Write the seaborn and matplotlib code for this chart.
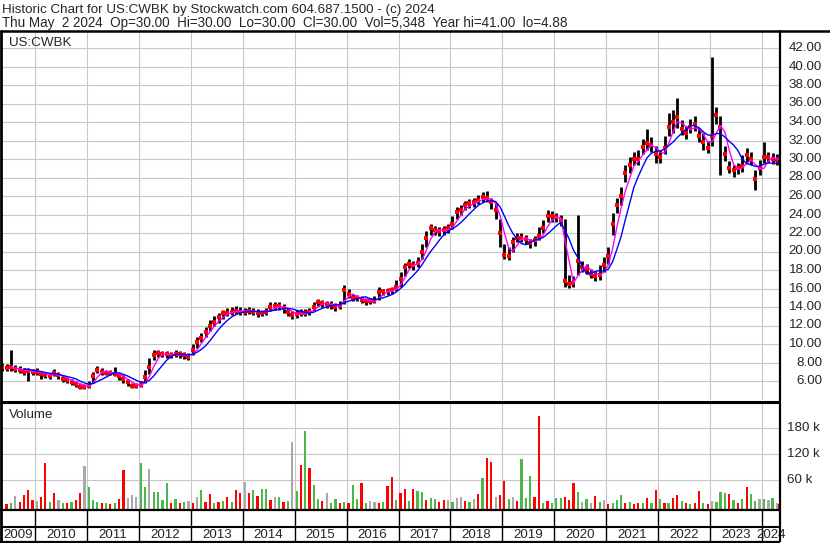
import numpy as np
import pandas as pd
import matplotlib
matplotlib.use("Agg")
import matplotlib.pyplot as plt
import seaborn as sns

# =========================================================
# DADOS (mensais, mai/2009 - mai/2024)
# =========================================================
close = [
    7.5, 7.4, 7.5, 7.3, 7.2, 7.0, 7.1, 7.0,
    7.0, 6.8, 6.6, 6.5, 6.9, 6.6, 6.2, 6.1, 5.9, 5.7, 5.4, 5.4,
    5.5, 6.5, 7.2, 7.0, 6.9, 6.9, 6.8, 6.5, 6.2, 5.9, 5.5, 5.5,
    5.6, 6.4, 7.5, 8.8, 9.0, 8.9, 8.9, 8.8, 8.9, 8.9, 8.8, 8.6,
    9.3, 10.2, 10.6, 11.3, 12.0, 12.4, 12.9, 13.3, 13.4, 13.5, 13.6, 13.5,
    13.5, 13.6, 13.5, 13.4, 13.4, 13.5, 14.0, 14.1, 14.1, 13.9, 13.5, 13.1,
    13.2, 13.4, 13.4, 13.5, 14.0, 14.5, 14.4, 14.3, 14.2, 14.0, 14.1, 15.8,
    15.4, 15.0, 15.0, 14.8, 14.6, 14.6, 14.7, 15.6, 15.7, 15.7, 15.8, 16.2,
    17.0, 18.3, 18.7, 18.5, 18.8, 20.0, 21.5, 22.5, 22.3, 22.2, 22.3, 22.5,
    23.0, 24.3, 24.5, 25.0, 25.2, 25.3, 25.6, 25.9, 25.8, 25.3, 24.5, 22.0,
    19.6, 19.5, 21.0, 21.5, 21.5, 21.3, 20.9, 21.2, 21.7, 22.5, 23.8, 23.8,
    23.7, 23.4, 16.8, 16.5, 16.6, 19.0, 18.3, 18.1, 17.6, 17.3, 17.5, 18.5,
    19.5, 23.0, 25.0, 26.0, 28.5, 29.3, 30.0, 30.0, 31.3, 31.7, 31.5, 30.5,
    30.2, 31.2, 33.5, 34.0, 34.5, 33.2, 32.8, 33.5, 33.8, 32.5, 31.8, 31.2,
    32.5, 34.8, 33.5, 30.5, 29.0, 28.8, 29.0, 29.2, 30.4, 30.0, 27.8, 29.0,
    30.2, 30.2, 30.0, 29.9, 30.0,
]
high = [
    7.9, 7.8, 9.4, 7.7, 7.6, 7.4, 7.4, 7.3,
    7.4, 7.1, 6.9, 6.9, 7.3, 7.0, 6.6, 6.4, 6.2, 6.0, 5.8, 5.7,
    6.0, 7.0, 7.6, 7.4, 7.2, 7.2, 7.5, 6.9, 6.6, 6.2, 5.8, 5.8,
    6.0, 7.2, 8.5, 9.4, 9.4, 9.2, 9.2, 9.1, 9.3, 9.2, 9.1, 9.0,
    10.0, 10.8, 11.2, 11.8, 12.6, 13.0, 13.4, 13.7, 13.9, 14.0, 14.1, 14.0,
    13.9, 14.0, 13.9, 13.8, 13.7, 13.9, 14.5, 14.5, 14.5, 14.3, 13.9, 13.6,
    13.7, 13.8, 13.8, 13.9, 14.5, 14.9, 14.8, 14.7, 14.6, 14.4, 14.6, 16.4,
    15.9, 15.4, 15.3, 15.2, 15.0, 15.0, 15.2, 16.2, 16.0, 16.1, 16.2, 16.9,
    17.8, 18.8, 19.2, 19.0, 19.4, 20.8, 22.2, 23.0, 22.8, 22.7, 22.8, 23.0,
    23.8, 24.8, 25.0, 25.5, 25.7, 25.8, 26.1, 26.4, 26.5, 25.8, 25.2, 23.5,
    20.8, 20.5, 21.6, 22.0, 22.0, 21.8, 21.4, 21.7, 22.6, 23.4, 24.5, 24.4,
    24.2, 23.9, 23.5, 17.5, 17.3, 24.0, 19.0, 18.6, 18.1, 17.9, 18.5, 19.4,
    20.5, 24.2, 25.8, 27.0, 29.3, 30.2, 30.8, 31.0, 32.2, 33.2, 32.4, 31.4,
    31.0, 32.5, 35.0, 35.3, 36.6, 34.2, 33.6, 34.3, 34.6, 33.4, 32.8, 32.0,
    41.0, 35.6, 34.6, 31.4, 29.8, 29.4, 29.6, 30.4, 31.2, 30.8, 28.8, 29.9,
    31.8, 30.8, 30.6, 30.5, 30.0,
]
low = [
    7.1, 7.1, 7.1, 7.0, 6.9, 6.7, 6.0, 6.7,
    6.7, 6.2, 6.3, 6.2, 6.5, 6.2, 5.9, 5.8, 5.6, 5.3, 5.1, 5.1,
    5.2, 5.8, 6.9, 6.7, 6.6, 6.6, 6.5, 6.1, 5.8, 5.5, 5.2, 5.2,
    5.3, 5.8, 6.8, 8.3, 8.6, 8.6, 8.5, 8.5, 8.6, 8.5, 8.4, 8.3,
    8.8, 9.6, 10.2, 10.8, 11.4, 12.0, 12.3, 12.7, 13.0, 13.1, 13.2, 13.1,
    13.1, 13.2, 13.1, 12.9, 13.0, 13.1, 13.6, 13.7, 13.7, 13.4, 13.0, 12.7,
    12.8, 13.0, 13.0, 13.1, 13.6, 14.1, 14.0, 13.9, 13.8, 13.6, 13.8, 14.3,
    15.0, 14.7, 14.6, 14.4, 14.2, 14.3, 14.4, 14.8, 15.3, 15.3, 15.4, 15.7,
    16.2, 17.4, 18.2, 18.0, 18.3, 19.2, 20.5, 21.8, 21.8, 21.7, 21.8, 22.0,
    22.4, 23.5, 24.0, 24.5, 24.7, 24.8, 25.1, 25.4, 25.3, 24.6, 23.5, 20.5,
    19.2, 19.1, 20.0, 21.0, 21.0, 20.8, 20.4, 20.6, 21.2, 22.0, 23.2, 23.2,
    23.2, 22.8, 16.2, 16.1, 16.2, 17.5, 17.8, 17.6, 17.1, 16.8, 16.9, 17.8,
    18.6, 21.8, 24.2, 25.0, 27.5, 28.5, 29.3, 29.4, 30.5, 31.0, 30.8, 29.6,
    29.6, 30.5, 32.5, 32.8, 33.4, 32.6, 32.2, 32.8, 33.0, 31.8, 31.0, 30.6,
    31.4, 33.8, 28.3, 29.8, 28.5, 28.1, 28.4, 28.6, 29.6, 29.4, 26.7, 28.3,
    29.6, 29.6, 29.5, 29.4, 30.0,
]
# volume em milhares
volume = [
    8, 5, 6, 23, 9, 25, 37, 14,
    12, 21, 99, 10, 30, 14, 8, 6, 9, 14, 30, 92,
    44, 14, 9, 6, 7, 5, 8, 16, 83, 18, 25, 21,
    100, 44, 85, 32, 32, 14, 53, 8, 16, 7, 9, 11,
    6, 21, 37, 9, 28, 8, 10, 12, 21, 9, 37, 30,
    56, 30, 37, 22, 39, 39, 15, 21, 20, 10, 12, 147,
    35, 95, 173, 88, 48, 16, 12, 30, 8, 16, 6, 9,
    7, 48, 16, 53, 8, 12, 10, 6, 9, 46, 67, 14,
    30, 39, 12, 40, 35, 32, 14, 18, 16, 9, 14, 14,
    10, 18, 21, 12, 9, 16, 28, 65, 110, 102, 21, 25,
    58, 16, 21, 12, 108, 18, 69, 20, 208, 8, 12, 6,
    18, 18, 21, 14, 53, 32, 10, 16, 8, 23, 9, 14,
    5, 8, 14, 25, 6, 9, 5, 8, 6, 18, 7, 37,
    16, 8, 6, 18, 25, 11, 6, 5, 7, 35, 6, 5,
    12, 9, 32, 30, 28, 14, 8, 16, 44, 28, 12, 16,
    16, 14, 18, 8, 5,
]
# cor de cada barra de volume: r = queda, g = alta, n = sem variacao
vol_dir = list(
    "grgnrrrr"
    "nrrgrngrgrrn"
    "gggrgrgrrnnn"
    "ggnggggrgrgn"
    "rngrrgrgrgrr"
    "nrgrggrngrgn"
    "grgrggrnggrg"
    "rggrgnnrgrrg"
    "rrgrggrggrrn"
    "gnnrgnrgrrnr"
    "rgnrgggrrgrg"
    "ggrrrgngnrgn"
    "rgggrgrrgrgr"
    "grgrrgrgrrgr"
    "ngggrgrgrggn"
    "gngnr"
)

years = list(range(2009, 2025))
price_ticks = list(range(6, 43, 2))
vol_ticks = [60, 120, 180]

header1 = "Historic Chart for US:CWBK by Stockwatch.com 604.687.1500 - (c) 2024"
header2 = ("Thu May  2 2024  Op=30.00  Hi=30.00  Lo=30.00  Cl=30.00  "
           "Vol=5,348  Year hi=41.00  lo=4.88")

# =========================================================
# PREPARO
# =========================================================
datas = pd.date_range("2009-05-01", "2024-05-01", freq="MS") + pd.Timedelta(days=14)
datas = datas[:-1].append(pd.DatetimeIndex(["2024-05-02"]))
t = np.asarray(datas.year + (datas.dayofyear - 1) / 365.25)

df = pd.DataFrame({"t": t, "close": close, "high": high, "low": low,
                   "vol": np.array(volume) * 1000, "dir": vol_dir})
df["ma_curta"] = df["close"].rolling(3).mean()
df["ma_longa"] = df["close"].rolling(6).mean()

cores_vol = {"r": "#ff0000", "g": "#4cb84c", "n": "#a9a9a9"}
GRID = "#c8c8c8"
FONT = 9.6

sns.set_theme(style="white")
plt.rcParams["font.family"] = ["Liberation Sans", "DejaVu Sans"]

W, H = 830, 543
fig = plt.figure(figsize=(W / 100, H / 100), dpi=100)


def px_axes(x0, y0, x1, y1):
    return fig.add_axes([x0 / W, 1 - y1 / H, (x1 - x0) / W, (y1 - y0) / H])


XMIN = 2010 + (2 - 35) / 51.93
XMAX = 2010 + (780 - 35) / 51.93


def estilo(ax):
    ax.set_xlim(XMIN, XMAX)
    ax.set_facecolor("white")
    for s in ax.spines.values():
        s.set_visible(False)
    ax.tick_params(length=0, labelbottom=False, labelleft=False)
    ax.set_xlabel("")
    ax.set_ylabel("")


# =========================================================
# PAINEL DE PRECO
# =========================================================
ax = px_axes(2, 32, 780, 400)
ax.set_xticks(years[1:])
ax.set_yticks(price_ticks)
ax.grid(True, color=GRID, lw=0.8)
ax.vlines(df["t"], df["low"], df["high"], color="black", lw=2.0, zorder=3)
sns.scatterplot(data=df, x="t", y="close", marker="s", s=10, color="red",
                linewidth=0, ax=ax, zorder=4)
sns.lineplot(data=df, x="t", y="ma_curta", color="#ff00ff", lw=1.0, ax=ax, zorder=5)
sns.lineplot(data=df, x="t", y="ma_longa", color="#0000ff", lw=1.0, ax=ax, zorder=5)
estilo(ax)
ax.set_ylim(42 - (400 - 48) / 9.25, 42 - (32 - 48) / 9.25)

# =========================================================
# PAINEL DE VOLUME
# =========================================================
axv = px_axes(2, 403, 780, 509)
vbase = -(509 - 506) / 26 * 60000
axv.set_xticks(years[1:])
axv.set_yticks([v * 1000 for v in vol_ticks])
axv.grid(True, color=GRID, lw=0.8)
axv.bar(df["t"], df["vol"] - vbase, bottom=vbase, width=0.042,
        color=[cores_vol[d] for d in df["dir"]], linewidth=0, zorder=3)
estilo(axv)
axv.set_ylim(vbase, (506 - 403) / 26 * 60000)

# =========================================================
# EIXO DOS ANOS
# =========================================================
axy = px_axes(2, 510, 780, 542)
estilo(axy)
axy.set_ylim(542, 510)
axy.grid(False)
axy.axhline(527, color="black", lw=1.5)
for a in years:
    if a > 2009:
        axy.vlines(a, 510, 541, color="black", lw=1.0)
    centro = (max(a, XMIN) + min(a + 1, XMAX)) / 2
    axy.text(centro, 534.5, str(a), ha="center", va="center", fontsize=FONT)

# =========================================================
# MOLDURA, CABECALHO E ROTULOS DA DIREITA
# =========================================================
ov = fig.add_axes([0, 0, 1, 1], facecolor="none")
ov.set_xlim(0, W)
ov.set_ylim(H, 0)
ov.axis("off")
ov.text(2, 12.8, header1, fontsize=FONT, va="baseline", ha="left")
ov.text(2, 26.8, header2, fontsize=9.75, va="baseline", ha="left")
ov.text(9, 46.5, "US:CWBK", fontsize=FONT, va="baseline", ha="left")
ov.text(9, 417.5, "Volume", fontsize=FONT, va="baseline", ha="left")
ov.hlines(30.5, 0, W, color="black", lw=1.8)
ov.vlines(1, 30, H, color="black", lw=2.0)
ov.vlines(780, 30, 542, color="black", lw=1.6)
ov.hlines(401.5, 0, 780, color="black", lw=2.2)
ov.hlines(509.5, 0, 780, color="black", lw=1.6)
ov.hlines(541.5, 0, 780, color="black", lw=1.6)

for p in price_ticks:
    ov.text(822, 48 + (42 - p) * 9.25, f"{p:.2f}", fontsize=FONT,
            ha="right", va="center")
for v in vol_ticks:
    ov.text(787, 506 - v / 60 * 26, f"{v} k", fontsize=FONT,
            ha="left", va="center")

fig.savefig("out.png", dpi=100)
